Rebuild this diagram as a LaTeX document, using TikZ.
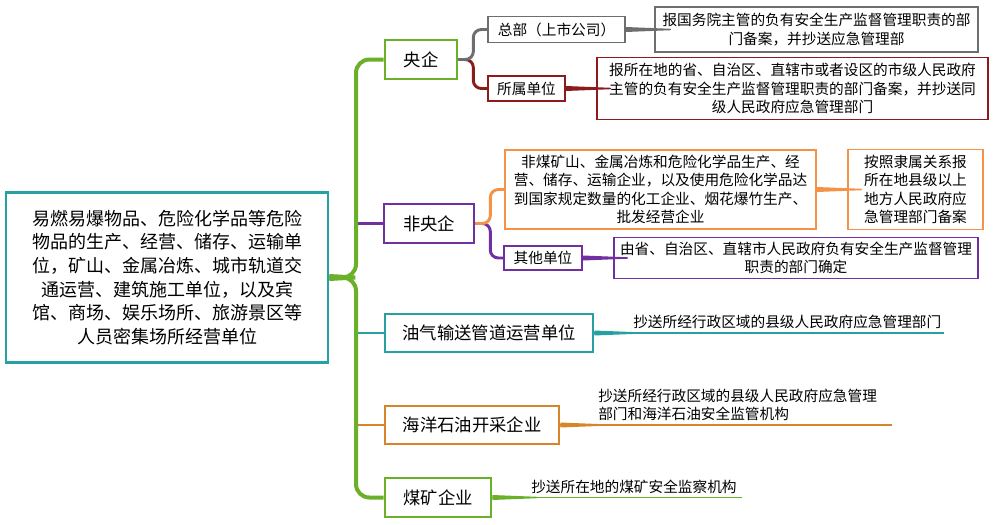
\documentclass[tikz,border=0pt]{standalone}
\usepackage{fontspec}
\newfontfamily\cjk{Noto Sans CJK SC}
\definecolor{grn}{RGB}{106,176,40}
\definecolor{pur}{RGB}{112,48,160}
\definecolor{tl}{RGB}{38,160,162}
\definecolor{org}{RGB}{214,134,40}
\definecolor{lor}{RGB}{244,146,72}
\definecolor{gry}{RGB}{110,110,110}
\definecolor{drd}{RGB}{140,28,28}
\tikzset{
rootbox/.style={draw=tl, line width=2.2pt, inner sep=0pt, align=center,
  font=\cjk\fontsize{13.5}{17.7}\selectfont},
mainbox/.style={draw, line width=2pt, inner sep=0pt,
  font=\cjk\fontsize{13}{16}\selectfont},
subbox/.style={draw, line width=1.4pt, inner sep=0pt, align=center,
  font=\cjk\fontsize{11}{13.8}\selectfont},
note/.style={inner sep=0pt, font=\cjk\fontsize{11}{13.5}\selectfont},
trunk/.style={grn, line width=3pt, rounded corners=10pt},
branch/.style={line width=2.2pt, rounded corners=6pt},
leaf/.style={line width=1.3pt},
taper/.pic={
  \fill (0,-2.5) -- (45,-0.7) -- (45,0.7) -- (0,2.5) -- cycle;
  },
roottaper/.pic={
  \fill (0,-3.5) -- (26,-2) -- (26,2) -- (0,3.5) -- cycle;
  }
}
\begin{document}
\begin{tikzpicture}[x=0.75pt, y=-0.75pt]
\useasboundingbox (0,0) rectangle (1000,525);
% root
\node[rootbox, minimum width=241.5pt, minimum height=127.5pt] (root) at (167,277.5)
  {易燃易爆物品、危险化学品等危险\\物品的生产、经营、储存、运输单\\位，矿山、金属冶炼、城市轨道交\\通运营、建筑施工单位，以及宾\\馆、商场、娱乐场所、旅游景区等\\人员密集场所经营单位};
% first level
\node[mainbox, draw=grn, minimum width=54pt, minimum height=29.25pt] (yq) at (421,59.5) {央企};
\node[mainbox, draw=pur, minimum width=67.5pt, minimum height=29.25pt] (fyq) at (429,223.5) {非央企};
\node[mainbox, draw=tl, minimum width=156pt, minimum height=28.5pt] (yqs) at (489,333) {油气输送管道运营单位};
\node[mainbox, draw=org, minimum width=130.5pt, minimum height=28.5pt] (hy) at (472,425) {海洋石油开采企业};
\node[mainbox, draw=grn, minimum width=79.5pt, minimum height=29.25pt] (mk) at (438,497.5) {煤矿企业};
% second level
\node[subbox, draw=gry, minimum width=102.75pt, minimum height=19.5pt] (zb) at (556.5,29.5) {总部（上市公司）};
\node[subbox, draw=drd, minimum width=57.75pt, minimum height=18.75pt] (ss) at (526.5,88.5) {所属单位};
\node[subbox, draw=lor, minimum width=233.25pt, minimum height=59.25pt] (fm) at (660.5,189.5)
  {非煤矿山、金属冶炼和危险化学品生产、经\\营、储存、运输企业，以及使用危险化学品达\\到国家规定数量的化工企业、烟花爆竹生产、\\批发经营企业};
\node[subbox, draw=pur, minimum width=58.5pt, minimum height=18pt] (qt) at (543,258) {其他单位};
% third level
\node[subbox, draw=gry, minimum width=242.25pt, minimum height=33.75pt] (zbd) at (816.5,29.5)
  {报国务院主管的负有安全生产监督管理职责的部\\门备案，并抄送应急管理部};
\node[subbox, draw=drd, minimum width=293.25pt, minimum height=46.5pt] (ssd) at (792.5,88.5)
  {报所在地的省、自治区、直辖市或者设区的市级人民政府\\主管的负有安全生产监督管理职责的部门备案，并抄送同\\级人民政府应急管理部门};
\node[subbox, draw=lor, minimum width=101.25pt, minimum height=60pt] (fmd) at (915.5,189.5)
  {按照隶属关系报\\所在地县级以上\\地方人民政府应\\急管理部门备案};
\node[subbox, draw=pur, minimum width=273pt, minimum height=30.75pt] (qtd) at (796,258)
  {由省、自治区、直辖市人民政府负有安全生产监督管理\\职责的部门确定};
% notes
\node[note, anchor=west] (t1) at (633,322) {抄送所经行政区域的县级人民政府应急管理部门};
\node[note, anchor=west, align=left] (t2) at (598,405) {抄送所经行政区域的县级人民政府应急管理\\部门和海洋石油安全监管机构};
\node[note, anchor=west] (t3) at (531,487) {抄送所在地的煤矿安全监察机构};
\coordinate (e1) at (944,333);
\coordinate (e2) at (892,425);
\coordinate (e3) at (742,497.5);
\coordinate (hub) at (356,277.5);

% connectors
\draw[branch, pur] (hub |- fyq.west) -- (fyq.west);
\draw[branch, tl] (hub |- yqs.west) -- (yqs.west);
\draw[branch, org] (hub |- hy.west) -- (hy.west);
\draw[trunk] (root.east) -| (hub |- yq.west) -- (yq.west);
\draw[trunk] (root.east) -| (hub |- mk.west) -- (mk.west);
\pic[grn] at (root.east) {roottaper};

\draw[branch, drd] (yq.east) -- ++(15,0) |- (ss.west);
\draw[branch, gry] (yq.east) -- ++(15,0) |- (zb.west);
\draw[branch, pur] (fyq.east) -- ++(15,0) |- (qt.west);
\draw[branch, lor] (fyq.east) -- ++(15,0) |- (fm.west);

\draw[leaf, gry] (zb.east) -- (zbd.west);
\pic[gry] at (zb.east) {taper};
\draw[leaf, drd] (ss.east) -- (ssd.west);
\pic[drd] at (ss.east) {taper};
\draw[leaf, lor] (fm.east) -- (fmd.west);
\pic[lor] at (fm.east) {taper};
\draw[leaf, pur] (qt.east) -- (qtd.west);
\pic[pur] at (qt.east) {taper};

\draw[leaf, tl] (yqs.east) -- (e1);
\pic[tl] at (yqs.east) {taper};
\draw[leaf, org] (hy.east) -- (e2);
\pic[org] at (hy.east) {taper};
\draw[leaf, grn] (mk.east) -- (e3);
\pic[grn] at (mk.east) {taper};
\end{tikzpicture}
\end{document}
